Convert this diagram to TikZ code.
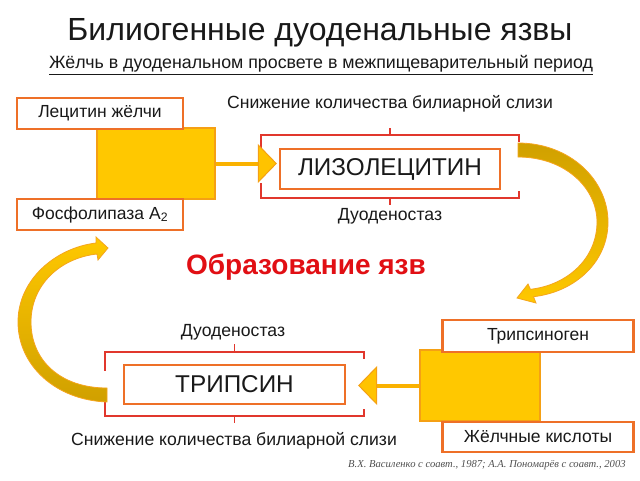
\documentclass[tikz,border=0pt]{standalone}
\usepackage{fontspec}
\setmainfont{Liberation Sans}
\newfontfamily\citefont{Liberation Serif}
\usetikzlibrary{arrows.meta,calc}
\definecolor{boxor}{RGB}{238,112,40}
\definecolor{brred}{RGB}{225,55,45}
\definecolor{sqfill}{RGB}{255,200,0}
\definecolor{sqedge}{RGB}{245,160,20}
\definecolor{connc}{RGB}{250,178,0}
\definecolor{tipfill}{RGB}{255,195,0}
\definecolor{ulred}{RGB}{225,15,20}
\definecolor{txt}{RGB}{25,25,25}
\definecolor{citec}{RGB}{80,80,80}
\definecolor{arrdark}{RGB}{208,160,0}
\definecolor{arrbright}{RGB}{255,200,0}
\definecolor{arredge}{RGB}{245,165,30}
\begin{document}
\begin{tikzpicture}[x=1pt,y=-1pt,
  titlestyle/.style={text=txt,inner sep=0pt,font=\fontsize{32}{36}\selectfont},
  substyle/.style={text=txt,inner sep=0pt,font=\fontsize{17.8}{21}\selectfont},
  labelstyle/.style={text=txt,inner sep=0pt,font=\fontsize{17.6}{21}\selectfont},
  lbox/.style={draw=boxor,line width=2.2pt,fill=white,text=txt,inner sep=0pt,font=\fontsize{17.5}{21}\selectfont},
  bigbox/.style={draw=boxor,line width=2.2pt,fill=white,text=txt,inner sep=0pt,font=\fontsize{24.3}{28}\selectfont},
  ysq/.style={draw=sqedge,line width=1.5pt,fill=sqfill,inner sep=0pt},
  conn/.style={draw=connc,line width=4pt,-{Triangle[length=19pt,width=39pt,line width=1pt,fill=tipfill,color=sqedge]}},
  bracket/.style={draw=brred,line width=1.5pt},
  fatarrow/.style={draw=arredge,line width=0.8pt},
  redtitle/.style={text=ulred,inner sep=0pt,font=\bfseries\fontsize{28}{32}\selectfont},
  citestyle/.style={text=citec,inner sep=0pt,font=\citefont\itshape\fontsize{10.6}{12}\selectfont}
]
\useasboundingbox (0,0) rectangle (640,480);
\fill[white] (0,0) rectangle (640,480);

% titles
\node[titlestyle] (title) at (320,33) {Билиогенные дуоденальные язвы};
\node[substyle] (sub) at (321,65) {\underline{Жёлчь в дуоденальном просвете в межпищеварительный период}};

% upper group
\node[ysq,minimum width=118,minimum height=71] (sq1) at (156,163.5) {};
\node[lbox,minimum width=166,minimum height=31] (lec) at (100,113.5) {Лецитин жёлчи};
\node[lbox,minimum width=166,minimum height=31] (fos) at (100,214.5) {Фосфолипаза A\textsubscript{2}};
\node[bigbox,minimum width=220,minimum height=40] (lyso) at (390,169) {ЛИЗОЛЕЦИТИН};

\draw[bracket] ($(lyso.north west)+(-18,7)$) |- ($(lyso.north east)+(18,-13)$) -- ++(0,7);
\draw[bracket] ($(lyso.south west)+(-18,-7)$) |- ($(lyso.south east)+(18,8)$) -- ++(0,-7);
\draw[bracket] ($(lyso.north)+(0,-13)$) -- ++(0,-7);
\draw[bracket] ($(lyso.south)+(0,8)$) -- ++(0,7);

\coordinate (t1) at ($(lyso.west |- sq1.east)+(-2,0)$);
\draw[conn] (sq1.east) -- (t1);

\node[labelstyle] (redu1) at (390,104) {Снижение количества билиарной слизи};
\node[labelstyle] (duo1) at (390,216) {Дуоденостаз};

\node[redtitle] (ulcer) at (306,267) {Образование язв};

% lower group
\node[ysq,minimum width=120,minimum height=71] (sq2) at (480,385.5) {};
\node[lbox,minimum width=191,minimum height=32] (trg) at (538,336) {Трипсиноген};
\node[lbox,minimum width=191,minimum height=30] (bile) at (538,437) {Жёлчные кислоты};
\node[bigbox,minimum width=221,minimum height=39] (trip) at (234.5,384.5) {ТРИПСИН};

\draw[bracket] ($(trip.north west)+(-18,7)$) |- ($(trip.north east)+(18,-12)$) -- ++(0,7);
\draw[bracket] ($(trip.south west)+(-18,-7)$) |- ($(trip.south east)+(18,11)$) -- ++(0,-7);
\draw[bracket] ($(trip.north)+(0,-12)$) -- ++(0,-8);
\draw[bracket] ($(trip.south)+(0,11)$) -- ++(0,7);

\coordinate (t2) at ($(trip.east |- sq2.west)+(12,0)$);
\draw[conn] (sq2.west) -- (t2);

\node[labelstyle] (duo2) at (233,332) {Дуоденостаз};
\node[labelstyle] (redu2) at (234,441) {Снижение количества билиарной слизи};

% curved arrows
\shadedraw[fatarrow,top color=arrdark,bottom color=arrbright]
  (518,143) .. controls (570,143) and (608,180) .. (608,222)
  .. controls (608,262) and (575,292) .. (533.5,296.7)
  -- (536,303) -- (517,298) -- (528,284) -- (530.4,289.3)
  .. controls (568,285) and (597,258) .. (597,222)
  .. controls (597,188) and (565,157) .. (518,157) -- cycle;

\shadedraw[fatarrow,top color=arrbright,bottom color=arrdark]
  (107,402) .. controls (55,400) and (18,365) .. (18,322)
  .. controls (18,280) and (55,248) .. (96,243)
  -- (96,237) -- (108,248) -- (98,260) -- (97,254)
  .. controls (60,258) and (31,285) .. (31,322)
  .. controls (31,360) and (60,388) .. (107,388) -- cycle;

\node[citestyle,anchor=west] (cite) at (348,465) {В.Х. Василенко с соавт., 1987; А.А. Пономарёв с соавт., 2003};
\end{tikzpicture}
\end{document}
